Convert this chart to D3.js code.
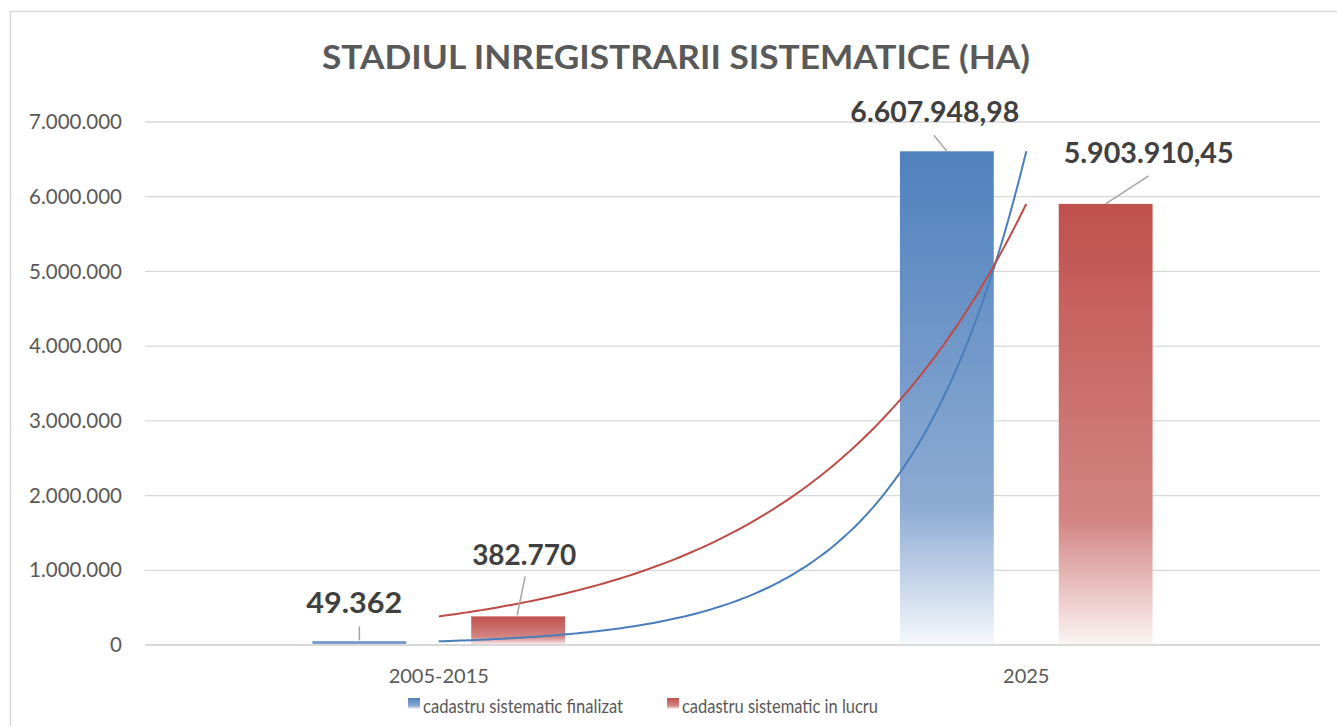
<!DOCTYPE html>
<html>
<head>
<meta charset="utf-8">
<script src="https://cdn.jsdelivr.net/npm/d3@7"></script>
<style>
  body { margin: 0; background: #fff; }
  text { font-family: Lato, "Open Sans", sans-serif; }
</style>
</head>
<body>
<svg id="chart" width="1337" height="726"></svg>
<script>
// data
let categories = ["2005-2015", "2025"];
let seriesNames = ["cadastru sistematic finalizat", "cadastru sistematic in lucru"];
let finalizat = [49362, 6607948.98];
let inLucru = [382770, 5903910.45];
let labelsFinalizat = ["49.362", "6.607.948,98"];
let labelsInLucru = ["382.770", "5.903.910,45"];
let yTicks = [0, 1000000, 2000000, 3000000, 4000000, 5000000, 6000000, 7000000];

let colors = ["#4F81BD", "#C0504D"];
let midColors = ["#8DABD3", "#D38683"];
let endColors = ["#F6F9FD", "#FCF5F5"];
let trendColors = ["#4A7EBB", "#BE4B48"];

let svg = d3.select('#chart');
let margin = {top: 122, left: 145, right: 17, bottom: 81};
let width = 1337 - margin.left - margin.right, height = 726 - margin.top - margin.bottom;

// chart frame
svg.append('rect').attr('x', 10.5).attr('y', 11.5).attr('width', 1400).attr('height', 800)
  .attr('fill', 'none').attr('stroke', '#d9d9d9').attr('stroke-width', 1.5);

// gradients
let defs = svg.append('defs');
colors.forEach(function(c, i){
  let g = defs.append('linearGradient').attr('id', 'grad' + i)
    .attr('x1', 0).attr('y1', 0).attr('x2', 0).attr('y2', 1);
  g.append('stop').attr('offset', '0%').attr('stop-color', c);
  g.append('stop').attr('offset', '72%').attr('stop-color', midColors[i]);
  g.append('stop').attr('offset', '100%').attr('stop-color', endColors[i]);
});

let g = svg.append('g').attr('transform', 'translate(' + margin.left + ',' + margin.top + ')');

var x0 = d3.scaleBand().domain(categories).range([0, width]).paddingInner(0.57).paddingOuter(0.285);
var x1 = d3.scaleBand().domain([0, 1]).range([0, x0.bandwidth()]).paddingInner(0.409);
var y = d3.scaleLinear().domain([0, 7000000]).range([height, 0]);
let cx = function(c){ return x0(c) + x0.bandwidth() / 2; };

// gridlines
g.selectAll('.grid').data(yTicks.slice(1)).enter().append('line')
  .attr('x1', 0).attr('x2', width)
  .attr('y1', function(d){ return y(d); }).attr('y2', function(d){ return y(d); })
  .attr('stroke', '#d9d9d9').attr('stroke-width', 1.3);

// y labels
let fmt = function(d){ return d3.format(',')(d).replace(/,/g, '.'); };
g.selectAll('.ylab').data(yTicks).enter().append('text')
  .attr('x', -23).attr('y', function(d){ return y(d); }).attr('dy', '0.35em')
  .attr('text-anchor', 'end').attr('fill', '#595959').style('font-size', '20.5px')
  .text(fmt);

// bars
let series = [finalizat, inLucru];
series.forEach(function(vals, s){
  g.selectAll('.bar' + s).data(vals).enter().append('rect')
    .attr('x', function(d, i){ return x0(categories[i]) + x1(s); })
    .attr('y', function(d){ return y(d); })
    .attr('width', x1.bandwidth())
    .attr('height', function(d){ return height - y(d); })
    .attr('fill', 'url(#grad' + s + ')');
});

// x axis line
g.append('line').attr('x1', 0).attr('x2', width).attr('y1', height).attr('y2', height)
  .attr('stroke', '#d9d9d9').attr('stroke-width', 2);

// x labels
g.selectAll('.xlab').data(categories).enter().append('text')
  .attr('x', cx).attr('y', height + 38)
  .attr('text-anchor', 'middle').attr('fill', '#595959').style('font-size', '20px')
  .text(function(d){ return d; });

// exponential trendlines through both points
series.forEach(function(vals, s){
  let pts = d3.range(0, 1.001, 0.01).map(function(t){
    return [cx(categories[0]) + t * (cx(categories[1]) - cx(categories[0])),
            vals[0] * Math.pow(vals[1] / vals[0], t)];
  });
  var line = d3.line().x(function(d){ return d[0]; }).y(function(d){ return y(d[1]); }).curve(d3.curveMonotoneX);
  g.append('path').datum(pts).attr('d', line)
    .attr('fill', 'none').attr('stroke', trendColors[s]).attr('stroke-width', 2);
});

// data labels with leader lines (offsets relative to bar top centre), per series per category
let labelOffsets = [
  [{dx: -5, dy: -38, lx1: 0, ly1: -15, lx2: 0, ly2: -1, w: 96},
   {dx: -12, dy: -39, lx1: -13, ly1: -16, lx2: 0, ly2: 0, w: 169}],
  [{dx: 6, dy: -62, lx1: 7, ly1: -40, lx2: -1, ly2: -1, w: 104},
   {dx: 43, dy: -51, lx1: 43, ly1: -28, lx2: 0, ly2: 0, w: 170}]
];
let labelTexts = [labelsFinalizat, labelsInLucru];
series.forEach(function(vals, s){
  vals.forEach(function(v, i){
    let bx = x0(categories[i]) + x1(s) + x1.bandwidth() / 2, by = y(v);
    let o = labelOffsets[s][i];
    g.append('line').attr('x1', bx + o.lx1).attr('y1', by + o.ly1)
      .attr('x2', bx + o.lx2).attr('y2', by + o.ly2)
      .attr('stroke', '#a6a6a6').attr('stroke-width', 1.5);
    g.append('text').attr('x', bx + o.dx).attr('y', by + o.dy).attr('dy', '0.35em')
      .attr('text-anchor', 'middle').attr('fill', '#404040')
      .style('font-size', '29px').style('font-weight', 'bold')
      .attr('textLength', o.w).attr('lengthAdjust', 'spacingAndGlyphs')
      .text(labelTexts[s][i]);
  });
});

// title
svg.append('text').attr('x', 676).attr('y', 69).attr('text-anchor', 'middle')
  .attr('fill', '#595959').style('font-size', '32px').style('font-weight', 'bold')
  .attr('textLength', 708).attr('lengthAdjust', 'spacingAndGlyphs')
  .text('STADIUL INREGISTRARII SISTEMATICE (HA)');

// legend
let legendX = [408, 667], legendW = [200, 196];
seriesNames.forEach(function(name, s){
  let lg = svg.append('g').attr('transform', 'translate(' + legendX[s] + ',698)');
  lg.append('rect').attr('width', 12).attr('height', 11).attr('fill', 'url(#grad' + s + ')');
  lg.append('text').attr('x', 15).attr('y', 15).attr('fill', '#595959').style('font-size', '20px')
    .attr('textLength', legendW[s]).attr('lengthAdjust', 'spacingAndGlyphs')
    .text(name);
});
</script>
</body>
</html>
